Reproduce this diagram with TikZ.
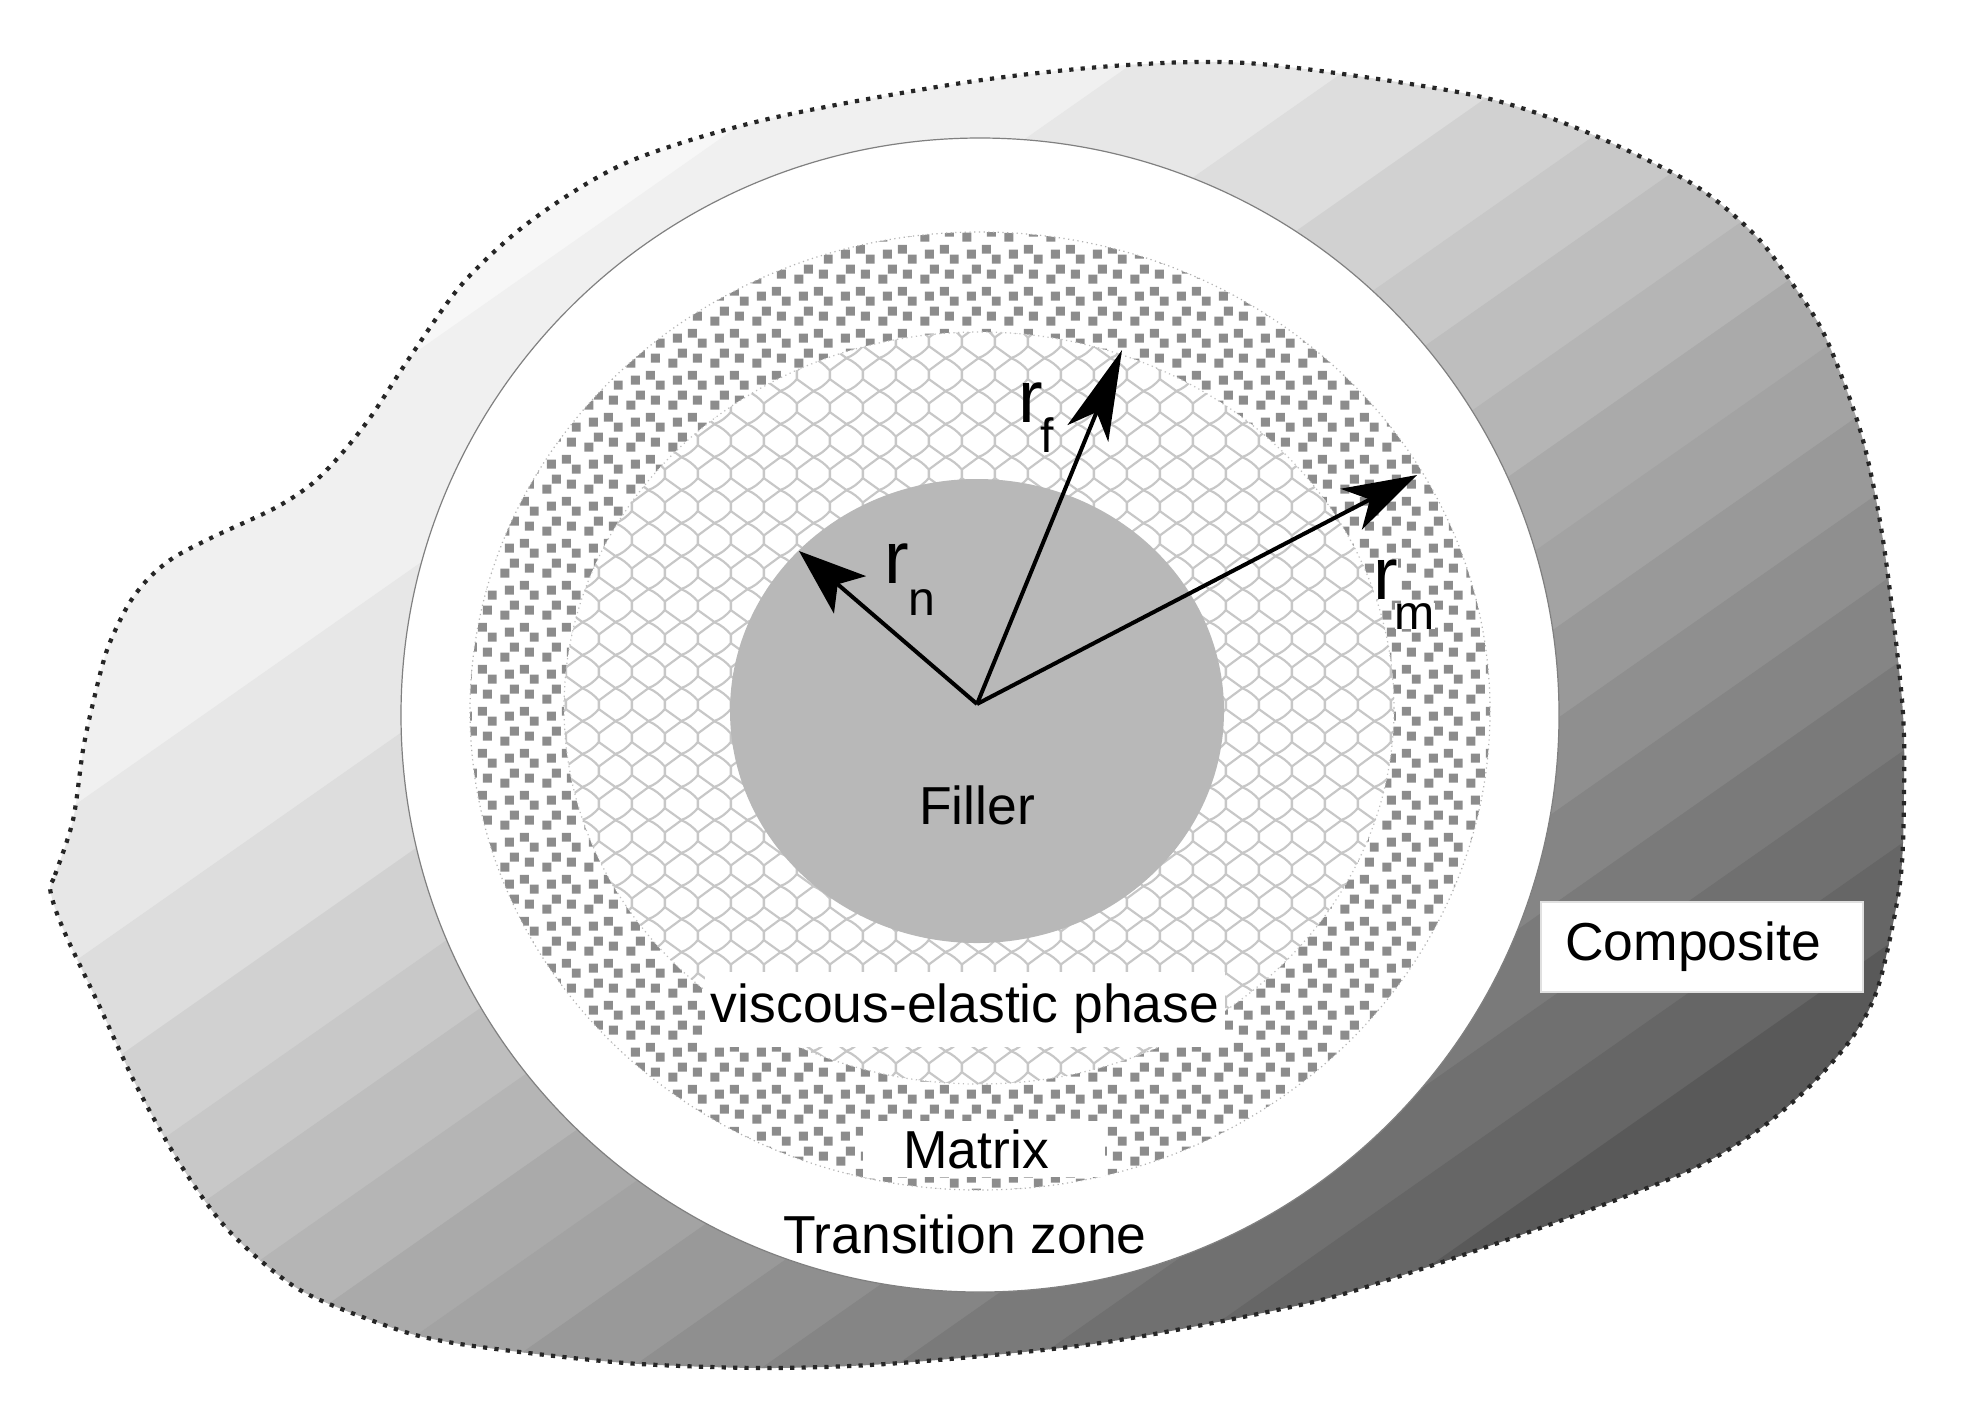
\documentclass[tikz,border=0pt]{standalone}
\usepackage{fontspec}
\setmainfont{Liberation Sans}
\usetikzlibrary{
    patterns,
    arrows.meta
}
\pgfdeclarepatternformonly{matrixdots}{\pgfpointorigin}{\pgfpoint{.4167cm}{.4167cm}}{\pgfpoint{.4167cm}{.4167cm}}{
	\foreach \px/\py in {9.5/31, 24.5/36, 34.5/26, 29.5/11, 4.83/6, 14.5/16} {
		\pgfpathrectangle{\pgfpoint{(\px-4.5)*0.01cm}{(\py-4.5)*0.01cm}}{\pgfpoint{.09cm}{.09cm}}
	}
	\pgfusepath{fill}
}
\pgfdeclarepatternformonly{shinglelines}{\pgfpointorigin}{\pgfpoint{.3333cm}{.3333cm}}{\pgfpoint{.3333cm}{.3333cm}}{
	\pgfsetlinewidth{.022cm}
	\pgfsetroundjoin
	\pgfpathmoveto{\pgfpoint{0cm}{.12cm}}
	\pgfpathlineto{\pgfpoint{.1667cm}{0cm}}
	\pgfpathcurveto{\pgfpoint{.23cm}{.02cm}}{\pgfpoint{.29cm}{.07cm}}{\pgfpoint{.3333cm}{.12cm}}
	\pgfpathlineto{\pgfpoint{.3333cm}{.21cm}}
	\pgfpathcurveto{\pgfpoint{.29cm}{.26cm}}{\pgfpoint{.23cm}{.31cm}}{\pgfpoint{.1667cm}{.3333cm}}
	\pgfpathlineto{\pgfpoint{0cm}{.21cm}}
	\pgfpathclose
	\pgfusepath{stroke}
}
\newcommand{\blobpath}{plot [smooth cycle, tension=.5] coordinates {
	(50,887) (55,875) (73,820) (83,750) (93,703) (107,650) (127,607) (147,580) (173,558)
	(213,537) (275,508) (313,483) (343,452) (372,415) (410,357) (463,283) (532,220) (628,162)
	(768,119) (968,82) (1127,65) (1260,64) (1468,94) (1579,129) (1691,183) (1753,233) (1789,279)
	(1825,336) (1861,433) (1883,540) (1902,700) (1904,792) (1900,883) (1879,984) (1854,1035)
	(1811,1085) (1757,1131) (1686,1172) (1543,1227) (1397,1277) (1300,1305) (1100,1343) (900,1363)
	(770,1368) (640,1364) (537,1354) (448,1342) (393,1328) (300,1290) (230,1232) (182,1167)
	(137,1087) (98,1003) (68,940) (55,908)}}
\begin{document}
\begin{tikzpicture}[x=0.01cm,y=-0.01cm,font=\fontsize{15.2}{18}\selectfont]
	\tikzstyle{whitebox}=[fill=white, inner sep=0pt]
	\tikzstyle{plain}=[inner sep=0pt]
	\tikzstyle{rsym}=[inner sep=0pt, anchor=base west, font=\fontsize{21}{24}\selectfont]
	\tikzstyle{rsub}=[inner sep=0pt, anchor=base west, font=\fontsize{13.7}{16}\selectfont]
	\tikzstyle{radius}=[line width=.04cm]
	\useasboundingbox (0, 0) rectangle (1964, 1417);
	\begin{scope}
		\clip \blobpath;
		\foreach \ta/\tb/\g in {400/527/.97, 527/702/.94, 702/830/.905, 830/933/.865, 933/1026/.82, 1026/1101/.785,
			1101/1181/.745, 1181/1256/.71, 1256/1332/.665, 1332/1407/.64, 1407/1482/.60, 1482/1557/.56,
			1557/1632/.52, 1632/1707/.48, 1707/1782/.44, 1782/1857/.40, 1857/2000/.35} {
			\definecolor{bandgray}{gray}{\g}
			\fill [bandgray] ({0.574*\ta-2047},{0.819*\ta+1435}) -- ({0.574*\ta+2047},{0.819*\ta-1435})
				-- ({0.574*(\tb+2)+2047},{0.819*(\tb+2)-1435}) -- ({0.574*(\tb+2)-2047},{0.819*(\tb+2)+1435}) -- cycle;
		}
	\end{scope}
	\draw [line width=.042cm, dash pattern=on .042cm off .072cm, color=black!85] \blobpath;

	\draw [fill=white, draw=black!50, line width=.012cm] (980, 715) ellipse (579 and 577);
	\fill [pattern=matrixdots, pattern color=black!45] (980, 711) ellipse (510 and 479);
	\draw [draw=black!30, line width=.012cm, densely dotted] (980, 711) ellipse (510 and 479);
	\fill [white] (979, 708) ellipse (415 and 376);
	\fill [pattern=shinglelines, pattern color=black!22] (979, 708) ellipse (415 and 376);
	\draw [draw=black!25, line width=.012cm, densely dotted] (979, 708) ellipse (415 and 376);
	\fill [black!28] (977, 711) ellipse (247 and 232);

	\coordinate (O) at (977, 704);
	\coordinate (rn tip) at (799, 551);
	\coordinate (rf tip) at (1122, 350);
	\coordinate (rm tip) at (1417, 475);
	\draw [radius, -{Stealth[length=.67cm, width=.49cm, inset=.16cm]}] (O) -- (rn tip);
	\draw [radius, -{Stealth[length=.90cm, width=.44cm, inset=.23cm]}] (O) -- (rf tip);
	\draw [radius, -{Stealth[length=.74cm, width=.46cm, inset=.21cm]}] (O) -- (rm tip);

	\node [rsym] (rn) at (884, 583) {r};
	\node [rsub] (rn sub) at (908, 615) {n};
	\node [rsym] (rf) at (1018, 422) {r};
	\node [rsub] (rf sub) at (1040, 452) {f};
	\node [rsym, fill=white] (rm) at (1373, 599) {r};
	\node [rsub, fill=white] (rm sub) at (1394, 629) {m};

	\node [plain] (filler) at (977, 805) {Filler};
	\node [whitebox, minimum width=5.2cm, minimum height=.75cm] (viscous) at (965, 1009) {viscous-elastic phase};
	\node [whitebox, minimum width=2.41cm, minimum height=.56cm] (matrix) at (984, 1149) {Matrix\kern1.6mm};
	\node [plain] (transition) at (965, 1234) {Transition zone};
	\node [whitebox, minimum width=3.22cm, minimum height=.9cm, draw=black!12, line width=.02cm] (composite) at (1702, 947) {Composite\kern1.8mm};
\end{tikzpicture}
\end{document}
